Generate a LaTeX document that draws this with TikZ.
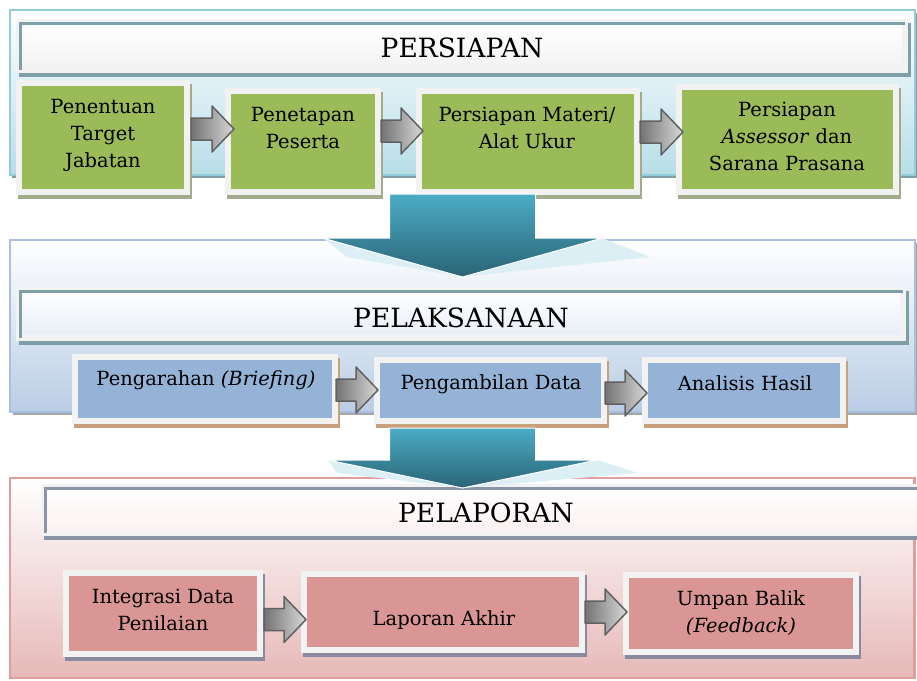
\documentclass[tikz,border=0pt]{standalone}
\usepackage{fontspec}
\setmainfont{DejaVu Serif}
\usetikzlibrary{calc,shadows}

\definecolor{prepline}{HTML}{93CDDD}
\definecolor{prepbot}{HTML}{B7DEE8}
\definecolor{execline}{HTML}{A7C0DF}
\definecolor{execbot}{HTML}{B9CDE5}
\definecolor{reportline}{HTML}{DE9E9C}
\definecolor{reportbot}{HTML}{E6B9B8}
\definecolor{greenfill}{HTML}{9BBB59}
\definecolor{greenshade}{HTML}{A3AB8D}
\definecolor{bluefill}{HTML}{95B3D7}
\definecolor{blueshade}{HTML}{C9A07C}
\definecolor{redfill}{HTML}{D99694}
\definecolor{redshade}{HTML}{8A8A9E}
\definecolor{framegray}{HTML}{F2F2F2}
\definecolor{barteal}{HTML}{7F9FA8}
\definecolor{barslate}{HTML}{8B94A6}
\definecolor{tealtop}{HTML}{4BACC6}
\definecolor{tealbot}{HTML}{2A6475}
\definecolor{glint}{HTML}{DCEFF4}

\begin{document}
\begin{tikzpicture}[x=1pt,y=-1pt,
        box/.style={rectangle, inner sep=0pt, line width=6pt, draw=framegray},
        stepshadow/.style={drop shadow={shadow xshift=2pt, shadow yshift=-4pt, opacity=1, fill=#1, draw=#1, line width=6pt}},
        greenbox/.style={box, fill=greenfill, stepshadow=greenshade},
        bluebox/.style={box, fill=bluefill, stepshadow=blueshade},
        redbox/.style={box, fill=redfill, stepshadow=redshade},
        boxtext/.style={align=center, inner sep=0pt, font=\fontsize{19.5}{27}\selectfont},
        titlebar/.style={box, font=\fontsize{26.5}{30}\selectfont, text depth=0pt,
            drop shadow={shadow xshift=3pt, shadow yshift=-4pt, opacity=1, fill=#1, draw=#1, line width=6pt}},
        edgeline/.style={draw=#1, line width=3pt},
        panel/.style={line width=2.5pt},
        grayarr/.style={draw=black!62, line width=1.5pt, line join=round, left color=black!55, right color=black!15,
            to path={let \p1=(\tikztostart), \p2=(\tikztotarget) in
                (\x1,\y1+11pt) -- (\x2-22pt,\y1+11pt) -- (\x2-22pt,\y1+23pt) -- (\x2,\y1)
                -- (\x2-22pt,\y1-23pt) -- (\x2-22pt,\y1-11pt) -- (\x1,\y1-11pt) -- cycle}},
        bigarr/.style 2 args={draw=white, line width=1pt, top color=tealtop, bottom color=tealbot,
            to path={let \p1=(\tikztostart), \p2=(\tikztotarget) in
                (\x1-73pt,\y1) -- (\x1+73pt,\y1) -- (\x1+73pt,\y2+#1) -- (\x1+#2,\y2+#1) -- (\x2,\y2)
                -- (\x1-#2,\y2+#1) -- (\x1-73pt,\y2+#1) -- cycle}}]

            \useasboundingbox (0,0) rectangle (917,680);

            \clip (0,0) rectangle (917,680);

            %persiapan
            \draw[panel, draw=prepline, top color=white, bottom color=prepbot,
                drop shadow={shadow xshift=2pt, shadow yshift=-3pt, opacity=1, fill=barteal}] (10,10) rectangle (915,175);

            \node[titlebar=barteal, text height=23.3pt, top color=white, bottom color=framegray, minimum width=886pt, minimum height=48pt] (t1) at (462,46) {PERSIAPAN};

            \draw[edgeline=barteal] ([shift={(4.5pt,3pt)}]t1.south west) |- ([shift={(-3pt,-4.5pt)}]t1.north east);

            \node[greenbox, minimum width=168pt, minimum height=109pt] (g1) at (103,137.5) {};

            \node[greenbox, minimum width=150pt, minimum height=101pt] (g2) at (303,141.5) {};

            \node[greenbox, minimum width=218pt, minimum height=101pt] (g3) at (528,141.5) {};

            \node[greenbox, minimum width=217pt, minimum height=105pt] (g4) at (787.5,139.5) {};

            \node[boxtext] (g1t) at (103,135.5) {Penentuan\\Target\\Jabatan};

            \node[boxtext] (g2t) at (303,128) {Penetapan\\Peserta};

            \node[boxtext] (g3t) at (527,128) {Persiapan Materi/\\Alat Ukur};

            \node[boxtext] (g4t) at (787,136.5) {Persiapan\\\textit{Assessor} dan\\Sarana Prasana};

            \draw[grayarr] ([shift={(1pt,8.5pt)}]g1.east) to ([xshift=9pt]g2.west);

            \draw[grayarr] ([shift={(0pt,10.5pt)}]g2.east) to ([xshift=7pt]g3.west);

            \draw[grayarr] ([shift={(0pt,9.5pt)}]g3.east) to ([xshift=7pt]g4.west);

            %pelaksanaan
            \draw[panel, draw=execline, top color=white, bottom color=execbot,
                drop shadow={shadow xshift=3pt, shadow yshift=-3pt, opacity=1, fill=black!35}] (10,240) rectangle (915,412);

            \node[titlebar=barteal, text height=26.3pt, top color=white, bottom color=execbot!35, minimum width=884pt, minimum height=48pt] (t2) at (461,314) {PELAKSANAAN};

            \draw[edgeline=barteal] ([shift={(4.5pt,3pt)}]t2.south west) |- ([shift={(-3pt,-4.5pt)}]t2.north east);

            \node[bluebox, minimum width=260pt, minimum height=64pt] (b1) at (205,389) {};

            \node[bluebox, minimum width=227pt, minimum height=61pt] (b2) at (490.5,390.5) {};

            \node[bluebox, minimum width=198pt, minimum height=61pt] (b3) at (744,390.5) {};

            \node[boxtext] (b1t) at (206,380.5) {Pengarahan \textit{(Briefing)}};

            \node[boxtext] (b2t) at (491,384.5) {Pengambilan Data};

            \node[boxtext] (b3t) at (745,383) {Analisis Hasil};

            \draw[grayarr] ([shift={(-2pt,-1pt)}]b1.east) to ([xshift=4pt]b2.west);

            \draw[grayarr] ([shift={(-2pt,-2.5pt)}]b2.east) to ([xshift=5pt]b3.west);

            %pelaporan
            \draw[panel, draw=reportline, top color=white, bottom color=reportbot] (10,478) rectangle (914.5,678);

            \node[titlebar=barslate, text height=24.3pt, top color=white, bottom color=reportbot!20, minimum width=884pt, minimum height=46pt] (t3) at (486,510) {PELAPORAN};

            \draw[edgeline=barslate] ([shift={(4.5pt,3pt)}]t3.south west) |- ([shift={(-3pt,-4.5pt)}]t3.north east);

            \node[redbox, minimum width=194pt, minimum height=81pt] (r1) at (163,613.5) {};

            \node[redbox, minimum width=278pt, minimum height=76pt] (r2) at (443,612) {};

            \node[redbox, minimum width=230pt, minimum height=77pt] (r3) at (741,613.5) {};

            \node[boxtext] (r1t) at (163,610) {Integrasi Data\\Penilaian};

            \node[boxtext] (r2t) at (444,620) {Laporan Akhir};

            \node[boxtext] (r3t) at (741,613.5) {Umpan Balik\\\textit{(Feedback)}};

            \draw[grayarr] ([shift={(1pt,-6pt)}]r1.east) to ([xshift=5pt]r2.west);

            \draw[grayarr] (r2.east) to ([xshift=4pt]r3.west);

            %big arrows
            \coordinate (d1) at (462.5,194);

            \coordinate (d2) at (462.5,277);

            \coordinate (d3) at (462.5,428);

            \coordinate (d4) at (462.5,488);

            \fill[glint] (323,238) -- (347,257) -- (463,277) -- (650,257) -- (602,238) -- cycle;

            \draw[bigarr={39pt}{140pt}] (d1) to (d2);

            \fill[glint] (328,460) -- (337,473) -- (463,488) -- (638,473) -- (597,460) -- cycle;

            \draw[bigarr={28pt}{134.5pt}] (d3) to (d4);
        \end{tikzpicture}
\end{document}
